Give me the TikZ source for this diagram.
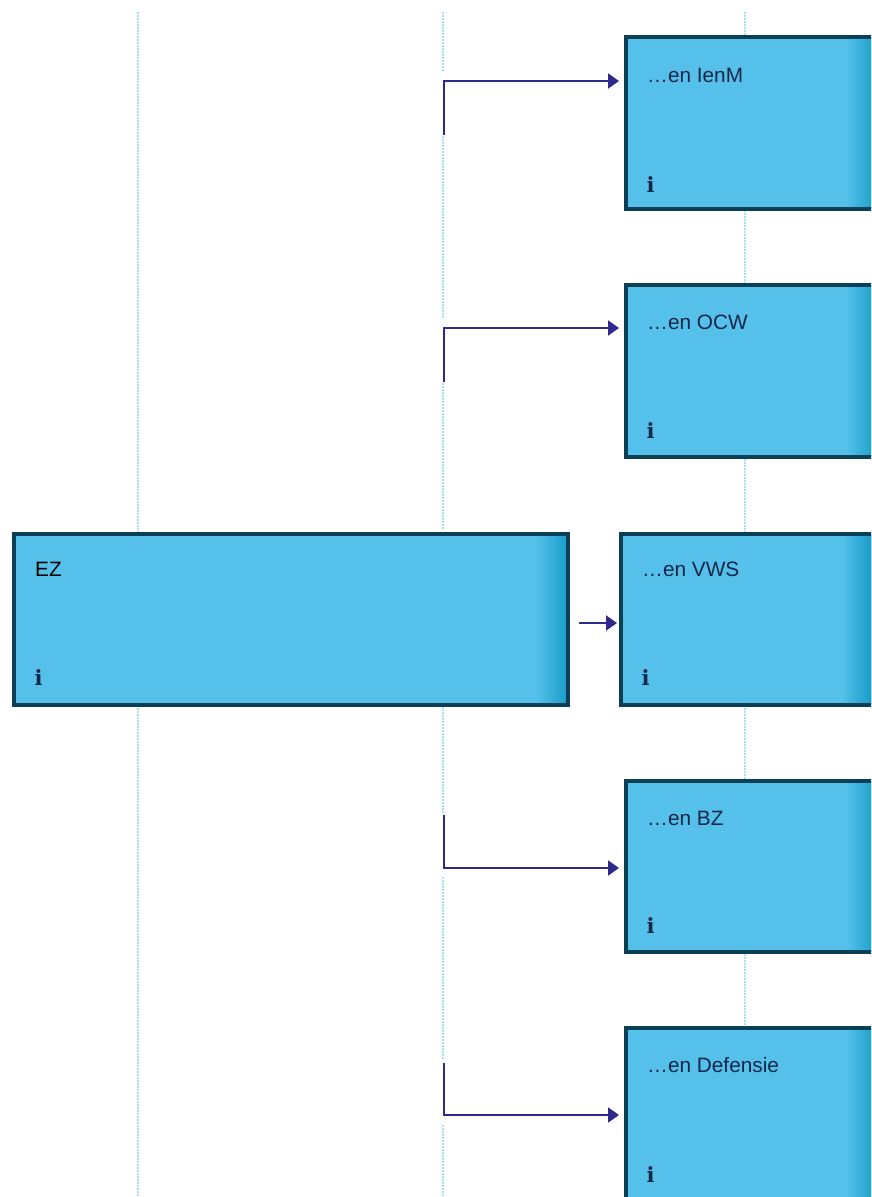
\documentclass[tikz,border=0pt]{standalone}
\usepackage{fontspec}
\setmainfont{Liberation Sans}
\newfontfamily\iconfont{DejaVu Serif}[BoldFont={DejaVu Serif Bold}]
\usetikzlibrary{arrows.meta}
\definecolor{boxfill}{HTML}{55C1EA}
\definecolor{boxedge}{HTML}{169BC9}
\definecolor{boxline}{HTML}{0B3F55}
\definecolor{guide}{HTML}{A5E0F5}
\definecolor{conn}{HTML}{2E2A8C}
\definecolor{labelcol}{HTML}{14264A}
\tikzset{
  x=1pt,y=-1pt,
  guideline/.style={draw=guide,line width=2pt,dash pattern=on 1.5pt off 1.5pt},
  connector/.style={draw=conn,line width=2pt,shorten >=7pt,-{Triangle[length=11pt,width=15pt,fill=conn]}},
  boxborder/.style={draw=boxline,line width=4pt,fill=none,inner sep=0pt,outer sep=0pt,rectangle},
  boxlabel/.style={anchor=west,inner sep=0pt,font=\fontsize{20.8}{24}\selectfont,text=labelcol},
  infomark/.style={anchor=center,inner sep=0pt,font=\iconfont\bfseries\fontsize{21}{22}\selectfont,text=labelcol}
}
% name, left, top, right, bottom (border centre line), label, label colour, label y, info y
\newcommand{\ministrybox}[9]{%
  \fill[boxfill] (#2,#3) rectangle (#4,#5);
  \shade[left color=boxfill,right color=boxedge] (#4-32,#3) rectangle (#4,#5);
  \node[boxborder,minimum width=#4-#2,minimum height=#5-#3] (#1) at ({(#2+#4)/2},{(#3+#5)/2}) {};
  \node[boxlabel,text=#7] (#1label) at (#2+21,#8) {#6};
  \node[infomark] (#1info) at (#2+24.5,#9) {i};
}
\begin{document}
\begin{tikzpicture}
\useasboundingbox (0,0) rectangle (871,1197);
\clip (0,0) rectangle (871,1197);
\fill[white] (0,0) rectangle (871,1197);
% guide lines
\draw[guideline] (138,12) -- (138,1197);
\draw[guideline] (443,12) -- (443,72) (443,136) -- (443,319) (443,383) -- (443,530)
  (443,706) -- (443,813) (443,877) -- (443,1059) (443,1125) -- (443,1197);
\draw[guideline] (745,12) -- (745,1197);
% boxes
\ministrybox{ienm}{626}{37}{878}{209}{…en IenM}{labelcol}{75}{184.5}
\ministrybox{ocw}{626}{285}{878}{457}{…en OCW}{labelcol}{322}{431}
\ministrybox{ez}{14}{534}{568}{704.5}{EZ}{black}{569}{678}
\ministrybox{vws}{621}{534}{873}{704.5}{…en VWS}{labelcol}{569}{678}
\ministrybox{bz}{626}{781}{878}{951.5}{…en BZ}{labelcol}{818}{926}
\ministrybox{def}{626}{1028}{878}{1200}{…en Defensie}{labelcol}{1065}{1175}
% connectors
\coordinate (a1) at (444,135); \coordinate (a2) at (444,81);
\coordinate (b1) at (444,382); \coordinate (b2) at (444,328);
\coordinate (c1) at (579,623);
\coordinate (d1) at (444,815); \coordinate (d2) at (444,868);
\coordinate (e1) at (444,1063); \coordinate (e2) at (444,1115);
\draw[connector] (a1) -- (a2) -- (a2 -| ienm.west);
\draw[connector] (b1) -- (b2) -- (b2 -| ocw.west);
\draw[connector,shorten >=4pt] (c1) -- (c1 -| vws.west);
\draw[connector] (d1) -- (d2) -- (d2 -| bz.west);
\draw[connector] (e1) -- (e2) -- (e2 -| def.west);
\end{tikzpicture}
\end{document}
